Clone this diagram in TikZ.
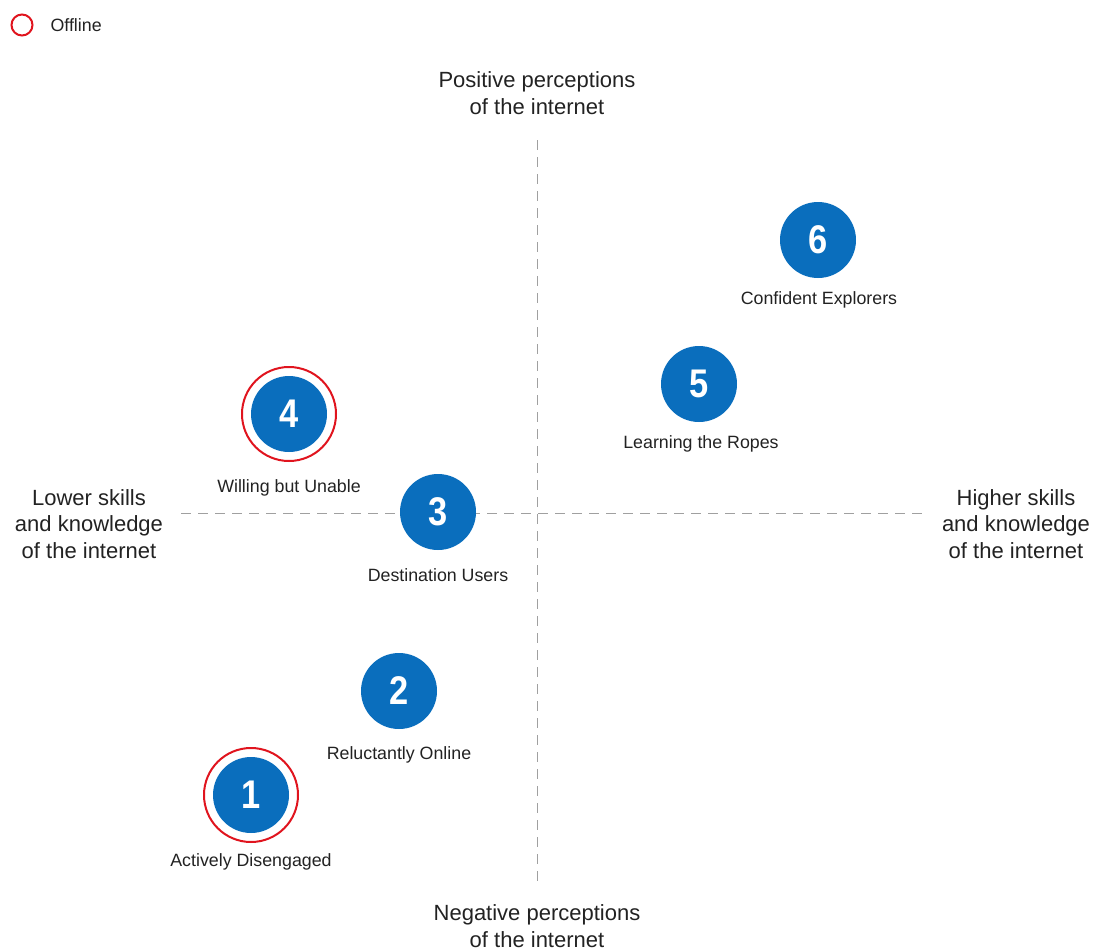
\documentclass[tikz,border=0pt]{standalone}
\usepackage{fontspec}
\usepackage{xcolor}
\usepackage{tikz}
\setmainfont{Liberation Sans}
\newfontfamily\numfont[FakeStretch=0.86]{Liberation Sans Bold}
\definecolor{segblue}{HTML}{0A6EBD}
\definecolor{offred}{HTML}{E0141E}
\definecolor{axisgray}{HTML}{A0A0A0}
\definecolor{textgray}{HTML}{222222}
\tikzset{
  seg/.style={circle, fill=segblue, minimum size=76pt, inner sep=0pt, text=white, font=\numfont\fontsize{40}{40}\selectfont},
  offline/.style={circle, draw=offred, line width=2pt, minimum size=94pt, inner sep=0pt},
  seglabel/.style={text=textgray, font=\fontsize{17.8}{20}\selectfont},
  axislabel/.style={text=textgray, align=center, font=\fontsize{22}{26.5}\selectfont},
  axis/.style={draw=axisgray, line width=1pt, dash pattern=on 10pt off 7pt}
}
\begin{document}
\begin{tikzpicture}[x=1pt, y=-1pt]
        \useasboundingbox (0, 0) rectangle (1098, 950);
        % legend
        \node[circle, draw=offred, line width=2pt, minimum size=21pt, inner sep=0pt] (key) at (22, 25) {};
        \node[seglabel, anchor=west] (keytext) at (47, 25) {Offline};
        % axes
        \coordinate (top) at (537, 140);
        \coordinate (bottom) at (537, 886);
        \coordinate (left) at (181, 513);
        \coordinate (right) at (928, 513);
        \draw[axis] (top) -- (bottom);
        \draw[axis] (left) -- (right);
        \node[axislabel] (pos) at (537, 93) {Positive perceptions\\of the internet};
        \node[axislabel] (neg) at (537, 926) {Negative perceptions\\of the internet};
        \node[axislabel] (low) at (89, 524) {Lower skills\\and knowledge\\of the internet};
        \node[axislabel] (high) at (1016, 524) {Higher skills\\and knowledge\\of the internet};
        % segments
        \node[offline] (ring1) at (251, 795) {};
        \node[offline] (ring4) at (289, 414) {};
        \node[seg] (s1) at (251, 795) {1};
        \node[seg] (s2) at (399, 691) {2};
        \node[seg] (s3) at (438, 512) {3};
        \node[seg] (s4) at (289, 414) {4};
        \node[seg] (s5) at (699, 384) {5};
        \node[seg] (s6) at (818, 240) {6};
        \node[seglabel] (l1) at (251, 862) {Actively Disengaged};
        \node[seglabel] (l2) at (399, 755) {Reluctantly Online};
        \node[seglabel] (l3) at (438, 575) {Destination Users};
        \node[seglabel] (l4) at (289, 488) {Willing but Unable};
        \node[seglabel] (l5) at (701, 444) {Learning the Ropes};
        \node[seglabel] (l6) at (819, 300) {Confident Explorers};
    \end{tikzpicture}
\end{document}
